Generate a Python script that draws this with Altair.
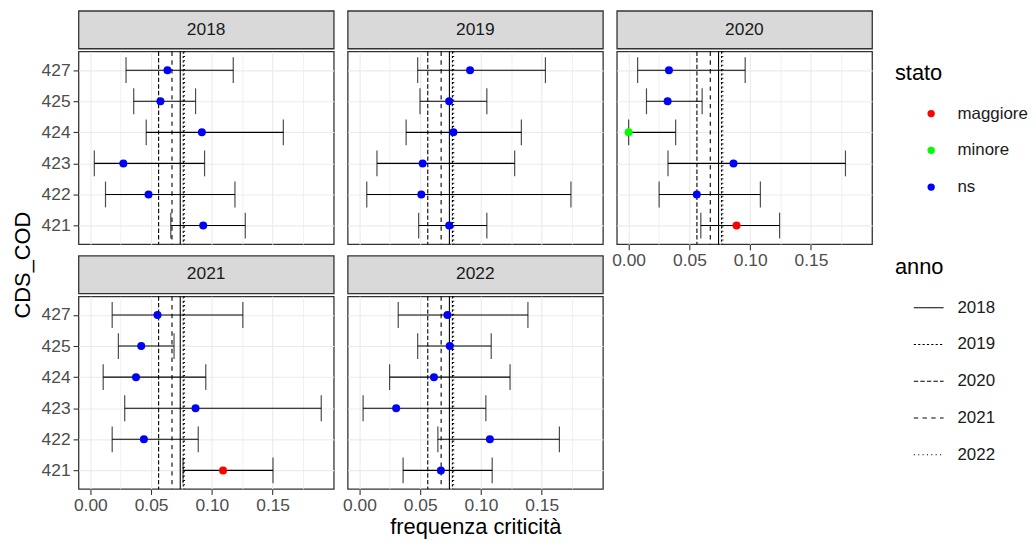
import altair as alt
import pandas as pd

# ---------------- data ----------------
anni_pannello = ["2018", "2019", "2020", "2021", "2022"]
cds = ["427", "425", "424", "423", "422", "421"]

freq_2018 = [0.0635, 0.0577, 0.0918, 0.0272, 0.0479, 0.0929]
low_2018 = [0.0294, 0.0357, 0.0460, 0.0033, 0.0125, 0.0662]
up_2018 = [0.1176, 0.0866, 0.1588, 0.0940, 0.1190, 0.1275]
stato_2018 = ["ns", "ns", "ns", "ns", "ns", "ns"]

freq_2019 = [0.0910, 0.0738, 0.0773, 0.0520, 0.0509, 0.0738]
low_2019 = [0.0479, 0.0498, 0.0384, 0.0144, 0.0060, 0.0487]
up_2019 = [0.1530, 0.1048, 0.1332, 0.1277, 0.1740, 0.1048]
stato_2019 = ["ns", "ns", "ns", "ns", "ns", "ns"]

freq_2020 = [0.0332, 0.0321, 0.0000, 0.0863, 0.0561, 0.0888]
low_2020 = [0.0074, 0.0147, 0.0000, 0.0324, 0.0251, 0.0594]
up_2020 = [0.0959, 0.0605, 0.0387, 0.1784, 0.1084, 0.1242]
stato_2020 = ["ns", "ns", "minore", "ns", "ns", "maggiore"]

freq_2021 = [0.0553, 0.0419, 0.0376, 0.0866, 0.0441, 0.1092]
low_2021 = [0.0180, 0.0231, 0.0106, 0.0283, 0.0180, 0.0763]
up_2021 = [0.1255, 0.0689, 0.0950, 0.1900, 0.0888, 0.1503]
stato_2021 = ["ns", "ns", "ns", "ns", "ns", "maggiore"]

freq_2022 = [0.0724, 0.0743, 0.0613, 0.0302, 0.1073, 0.0670]
low_2022 = [0.0319, 0.0479, 0.0248, 0.0030, 0.0645, 0.0359]
up_2022 = [0.1386, 0.1084, 0.1239, 0.1040, 0.1645, 0.1092]
stato_2022 = ["ns", "ns", "ns", "ns", "ns", "ns"]

# reference lines (mean per year)
anno_rif = ["2018", "2019", "2020", "2021", "2022"]
media_rif = [0.0740, 0.0765, 0.0562, 0.0672, 0.0775]

stato_dom = ["maggiore", "minore", "ns"]
stato_col = ["#FF0000", "#00FF00", "#0000FF"]
dash_range = [[1, 0], [2.2, 2.2], [4.4, 2.2], [4.4, 4.4], [1.1, 3.3]]

griglia_x = [0.0, 0.025, 0.05, 0.075, 0.1, 0.125, 0.15, 0.175]

serie = {
    "2018": (freq_2018, low_2018, up_2018, stato_2018),
    "2019": (freq_2019, low_2019, up_2019, stato_2019),
    "2020": (freq_2020, low_2020, up_2020, stato_2020),
    "2021": (freq_2021, low_2021, up_2021, stato_2021),
    "2022": (freq_2022, low_2022, up_2022, stato_2022),
}

df_rif = pd.DataFrame({"anno": anno_rif, "media": media_rif})

# ---------------- style ----------------
W, H, SH = 257, 194, 38
FONT = "Liberation Sans"
is_major = "abs(datum.value * 20 - round(datum.value * 20)) < 0.001"

xs = alt.Scale(domain=[-0.0097, 0.2003], nice=False, zero=False)
ys = alt.Scale(type="point", domain=cds, padding=0.6)

leg_stato = alt.Legend(
    title="stato", orient="none", legendX=889, legendY=53,
    titleFontSize=22, titleFontWeight="normal", titleColor="black", titleFont=FONT,
    labelFontSize=17, labelColor="#1A1A1A", labelFont=FONT,
    symbolType="circle", symbolSize=55, symbolOffset=28, labelOffset=18,
    rowPadding=19, titlePadding=20, padding=0, symbolStrokeWidth=0,
)
leg_anno = alt.Legend(
    title="anno", orient="none", legendX=889, legendY=248,
    titleFontSize=22, titleFontWeight="normal", titleColor="black", titleFont=FONT,
    labelFontSize=17, labelColor="#1A1A1A", labelFont=FONT,
    symbolType="stroke", symbolSize=900, symbolStrokeColor="black",
    symbolStrokeWidth=1.2, symbolOffset=18, labelOffset=13,
    rowPadding=13, titlePadding=13, padding=0,
)


def x_axis(show, title):
    if show:
        kw = dict(
            values=griglia_x,
            labelExpr=f"{is_major} ? format(datum.value, '.2f') : ''",
            tickOpacity={"condition": {"test": is_major, "value": 1}, "value": 0},
            gridWidth={"condition": {"test": is_major, "value": 1.1}, "value": 0.7},
            grid=True, gridColor="#EBEBEB", domain=False,
            labelFlush=False, labelOverlap=False,
            labelFontSize=17.5, labelColor="#4D4D4D", labelFont=FONT, labelPadding=2,
            tickSize=5.5, tickColor="#333333", tickWidth=1.1,
        )
        if title:
            kw.update(title=title, titleFontSize=22, titleFontWeight="normal",
                      titleColor="black", titleFont=FONT, titlePadding=3)
        else:
            kw.update(title=None)
        return alt.Axis(**kw)
    return alt.Axis(
        values=griglia_x, grid=True, gridColor="#EBEBEB",
        gridWidth={"condition": {"test": is_major, "value": 1.1}, "value": 0.7},
        labels=False, ticks=False, domain=False, title=None,
    )


def y_axis(show):
    if show:
        return alt.Axis(grid=True, gridColor="#EBEBEB", gridWidth=1.1, domain=False,
                        ticks=True, tickSize=5.5, tickColor="#333333", tickWidth=1.1,
                        labelFontSize=17.5, labelColor="#4D4D4D", labelFont=FONT,
                        labelPadding=3, title=None)
    return alt.Axis(grid=True, gridColor="#EBEBEB", gridWidth=1.1, domain=False,
                    labels=False, ticks=False, title=None)


def strip(anno):
    return alt.Chart(pd.DataFrame({"anno": [anno]})).mark_text(
        fontSize=17.5, color="#1A1A1A", font=FONT
    ).encode(text="anno:N").properties(
        width=W, height=SH,
        view=alt.ViewBackground(fill="#D9D9D9", stroke="#333333", strokeWidth=1.3),
    )


def panel(anno, show_x, show_y, x_title=None):
    f, lo, up, st = serie[anno]
    df = pd.DataFrame({"cds": cds, "freq": f, "low": lo, "up": up, "stato": st})
    xa = x_axis(show_x, x_title)
    ya = y_axis(show_y)
    X = lambda fld: alt.X(fld, scale=xs, axis=xa)
    Y = alt.Y("cds:N", scale=ys, axis=ya, sort=cds)

    rules = alt.Chart(df_rif).mark_rule(color="black", strokeWidth=1.1).encode(
        x=X("media:Q"),
        strokeDash=alt.StrokeDash("anno:N", scale=alt.Scale(domain=anno_rif, range=dash_range),
                                  legend=leg_anno),
    )
    bars = alt.Chart(df).mark_rule(color="black", strokeWidth=1.1).encode(
        x=X("low:Q"), x2="up:Q", y=Y)
    cap_lo = alt.Chart(df).mark_tick(color="black", size=26, thickness=1.2,
                                     orient="vertical").encode(x=X("low:Q"), y=Y)
    cap_hi = alt.Chart(df).mark_tick(color="black", size=26, thickness=1.2,
                                     orient="vertical").encode(x=X("up:Q"), y=Y)
    pts = alt.Chart(df).mark_circle(size=65, opacity=1).encode(
        x=X("freq:Q"), y=Y,
        color=alt.Color("stato:N", scale=alt.Scale(domain=stato_dom, range=stato_col),
                        legend=leg_stato),
    )
    return alt.layer(rules, bars, cap_lo, cap_hi, pts).properties(
        width=W, height=H,
        view=alt.ViewBackground(fill="white", stroke="#333333", strokeWidth=1.3),
    )


ytitle = alt.Chart(pd.DataFrame({"t": ["CDS_COD"]})).mark_text(
    angle=270, fontSize=22, color="black", font=FONT
).encode(text="t:N").properties(
    width=22, height=512, view=alt.ViewBackground(stroke="transparent")
)

col1 = alt.vconcat(
    alt.vconcat(strip("2018"), panel("2018", False, True), spacing=0),
    alt.vconcat(strip("2021"), panel("2021", True, True), spacing=0),
    spacing=8.5,
)
col2 = alt.vconcat(
    alt.vconcat(strip("2019"), panel("2019", False, False), spacing=0),
    alt.vconcat(strip("2022"), panel("2022", True, False, "frequenza criticità"), spacing=0),
    spacing=8.5,
)
col3 = alt.vconcat(strip("2020"), panel("2020", True, False), spacing=0)

left = alt.hconcat(ytitle, col1, spacing=5)

chart = alt.hconcat(left, col2, col3, spacing=7).properties(
    padding={"left": 3, "top": 0, "right": 0, "bottom": 0}
).configure(font=FONT).configure_view(stroke="transparent")

chart.save("out.html", embed_options={"renderer": "svg", "actions": False})
